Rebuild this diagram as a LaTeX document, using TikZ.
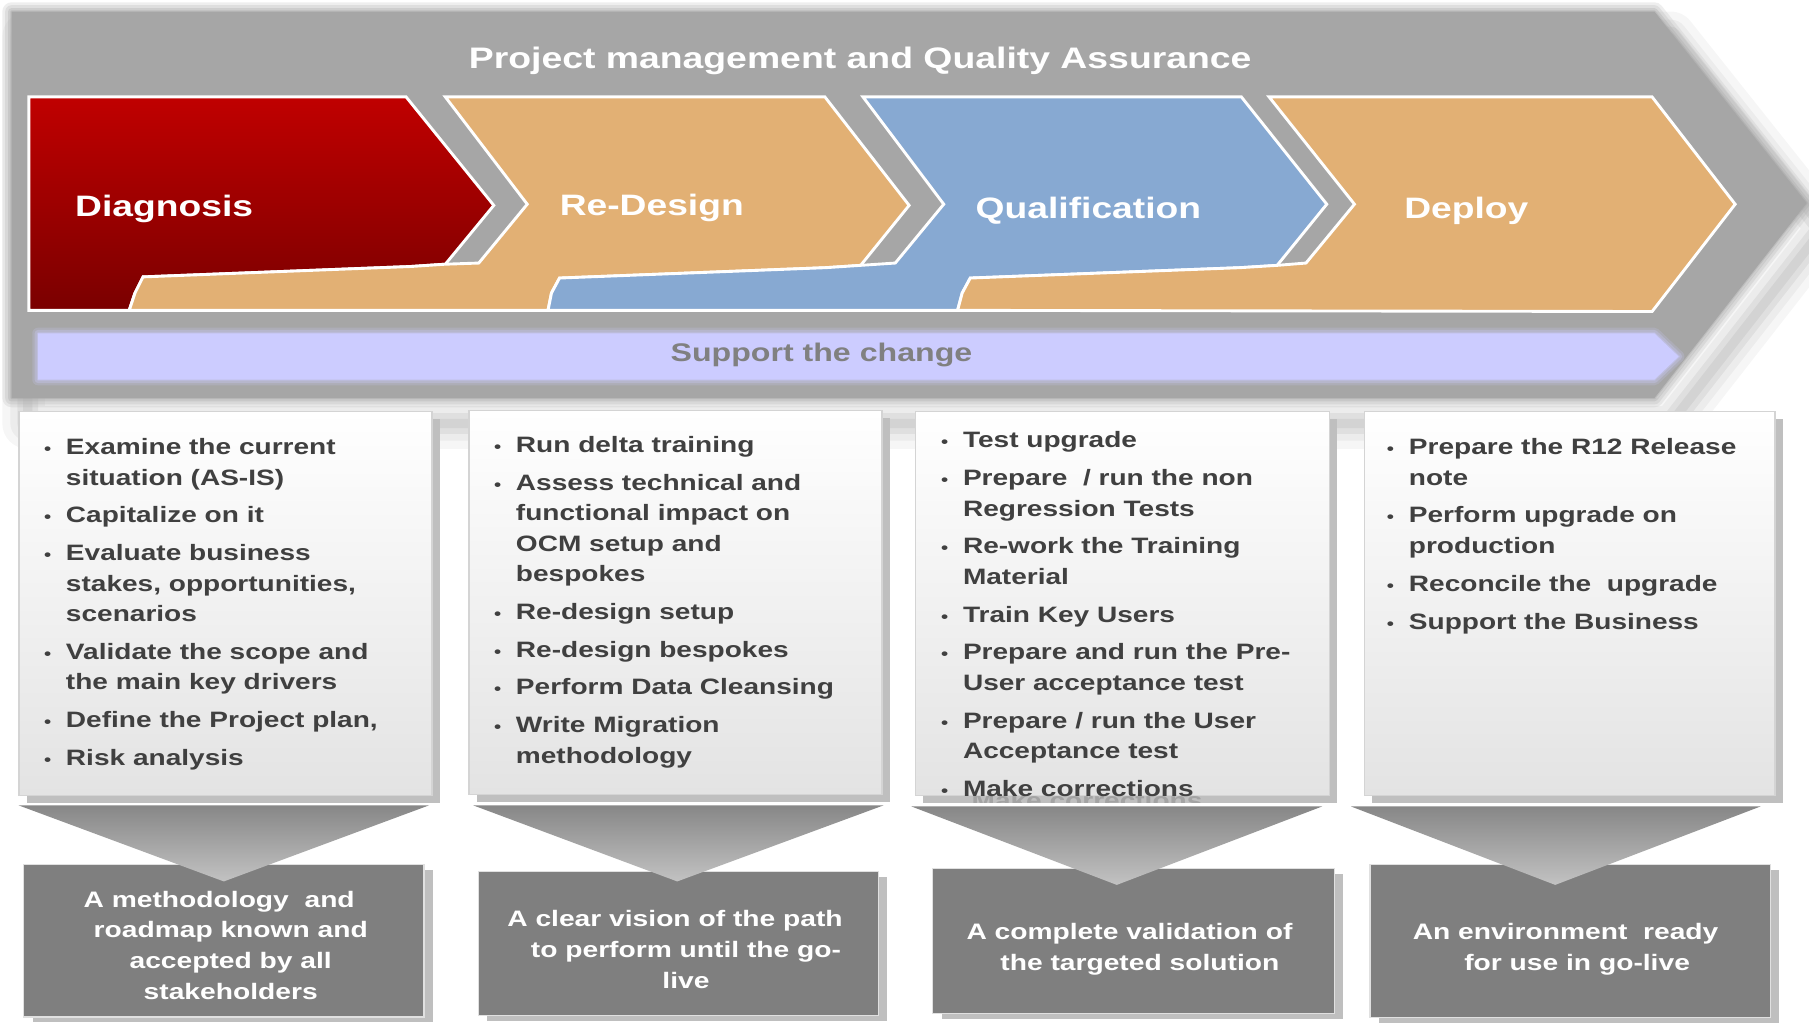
\documentclass[tikz,border=0pt]{standalone}
\usepackage{fontspec}
\newfontfamily\wf[FakeStretch=1.26]{Liberation Sans}
\definecolor{bannergray}{HTML}{A6A6A6}
\definecolor{redtop}{HTML}{C00000}
\definecolor{redbot}{HTML}{7A0000}
\definecolor{orng}{HTML}{E2B074}
\definecolor{blu}{HTML}{87A9D2}
\definecolor{lav}{HTML}{CCCCFF}
\definecolor{suptext}{HTML}{808080}
\definecolor{bultext}{HTML}{404040}
\definecolor{boxbot}{HTML}{E3E3E3}
\definecolor{boxline}{HTML}{D4D4D4}
\definecolor{shad}{HTML}{BFBFBF}
\definecolor{resfill}{HTML}{7F7F7F}
\definecolor{tritop}{HTML}{878787}
\definecolor{tribot}{HTML}{C2C2C2}
\definecolor{ghost}{HTML}{A3A3A3}
\newcommand{\mybul}{\makebox[19pt][l]{\fontsize{14pt}{14pt}\selectfont\textbullet}}
\newcommand{\mycont}{\hspace*{19pt}}
\newcommand{\firstst}{\rule{0pt}{20pt}}
\def\bannerpath{(10,10) -- (1434,10) -- (1566,176) -- (1434,345) -- (10,345) -- cycle}
\def\barpath{(33,289) -- (1434,289) -- (1455,309) -- (1434,329) -- (33,329) -- cycle}
\tikzset{
  chev/.style={draw=white, line width=2.5pt, line join=miter},
  phase/.style={font=\wf\bfseries\fontsize{25.6pt}{30pt}\selectfont, text=white, inner sep=0, anchor=base west},
  bullets/.style={font=\wf\bfseries\fontsize{19.3pt}{26.3pt}\selectfont, text=bultext, inner sep=0, anchor=north west, align=left},
  restext/.style={font=\wf\bfseries\fontsize{19.4pt}{26.6pt}\selectfont, text=white, inner sep=0, anchor=north, align=center},
  infobox/.style={top color=white, bottom color=boxbot, draw=boxline, line width=1.2pt, inner sep=0, anchor=north west},
  boxshadow/.style={fill=shad, inner sep=0, anchor=north west},
  funnelshade/.style={top color=tritop, bottom color=tribot},
  resbox/.style={fill=resfill, draw=white!88!black, line width=1pt, inner sep=0, anchor=north west},
}
\begin{document}
\begin{tikzpicture}[x=1pt,y=-1pt]
\useasboundingbox (0,0) rectangle (1568,887);
\fill[white] (0,0) rectangle (1568,887);

% soft back shadow of the banner
\begin{scope}[shift={(14,22)}]
  \foreach \w/\o in {44/0.035,30/0.04,18/0.05,8/0.05}{
    \draw[black, line width=\w pt, opacity=\o, line join=round] \bannerpath;}
\end{scope}

% banner with soft edges
\foreach \w/\o in {16/0.18,11/0.22,6/0.3,2/0.4}{
  \draw[bannergray, line width=\w pt, opacity=\o, line join=round] \bannerpath;}
\fill[bannergray] \bannerpath;

\node[font=\wf\bfseries\fontsize{25.7pt}{30pt}\selectfont, text=white, inner sep=0, anchor=base] (title) at (745.6,59) {Project management and Quality Assurance};

% chevrons
\path[chev, top color=redtop, bottom color=redbot]
  (25,84) -- (352,84) -- (428,178) -- (386,229) -- (356,231) -- (124,240) -- (117,254) -- (112,269) -- (25,269) -- cycle;
\path[chev, fill=orng]
  (386,84) -- (715,84) -- (788,178) -- (746,230) -- (716,232) -- (485,241) -- (478,254) -- (475,269) -- (112,269) -- (117,254) -- (124,240) -- (356,231) -- (386,229) -- (415,228) -- (457,177) -- cycle;
\path[chev, fill=blu]
  (748,84) -- (1076,84) -- (1150,177) -- (1107,230) -- (1075,232) -- (841,241) -- (834,254) -- (830,269) -- (475,269) -- (478,254) -- (485,241) -- (716,232) -- (746,230) -- (776,228) -- (818,177) -- cycle;
\path[chev, fill=orng]
  (1100,84) -- (1432,84) -- (1504,177) -- (1432,270) -- (830,269) -- (834,254) -- (841,241) -- (1075,232) -- (1107,230) -- (1132,228) -- (1174,177) -- cycle;

\node[phase] (diag) at (65,188) {Diagnosis};
\node[phase] (redes) at (485,186.5) {Re-Design};
\node[phase] (qual) at (845.5,189) {Qualification};
\node[phase] (depl) at (1217,189) {Deploy};

% support bar
\foreach \w/\o in {10/0.2,6/0.3,2/0.4}{
  \draw[lav, line width=\w pt, opacity=\o, line join=round] \barpath;}
\fill[lav] \barpath;
\node[font=\wf\bfseries\fontsize{22.1pt}{26pt}\selectfont, text=suptext, inner sep=0, anchor=base] (supp) at (712,313.5) {Support the change};

% info boxes
\node[boxshadow, minimum width=358pt, minimum height=333pt] (s1) at (23,363) {};
\node[boxshadow, minimum width=358pt, minimum height=333pt] (s2) at (413,362) {};
\node[boxshadow, minimum width=359pt, minimum height=333pt] (s3) at (800,363) {};
\node[boxshadow, minimum width=356pt, minimum height=333pt] (s4) at (1189,363) {};
\begin{scope}
  \clip (800,363) rectangle (1159,696);
  \node[font=\wf\bfseries\fontsize{19.3pt}{26.3pt}\selectfont, text=ghost, inner sep=0, anchor=base west] (ghost) at (842,701) {Make corrections};
\end{scope}
\node[infobox, minimum width=358pt, minimum height=333pt] (b1) at (16,356) {};
\node[infobox, minimum width=358pt, minimum height=333pt] (b2) at (406,355) {};
\node[infobox, minimum width=359pt, minimum height=333pt] (b3) at (793,356) {};
\node[infobox, minimum width=356pt, minimum height=333pt] (b4) at (1182,356) {};

\node[bullets] (t1) at (38,374) {\firstst\mybul Examine the current\\
\mycont situation (AS-IS)\\[6.5pt]
\mybul Capitalize on it\\[6.5pt]
\mybul Evaluate business\\
\mycont stakes, opportunities,\\
\mycont scenarios\\[6.5pt]
\mybul Validate the scope and\\
\mycont the main key drivers\\[6.5pt]
\mybul Define the Project plan,\\[6.5pt]
\mybul Risk analysis};

\node[bullets] (t2) at (428,372) {\firstst\mybul Run delta training\\[6.5pt]
\mybul Assess technical and\\
\mycont functional impact on\\
\mycont OCM setup and\\
\mycont bespokes\\[6.5pt]
\mybul Re-design setup\\[6.5pt]
\mybul Re-design bespokes\\[6.5pt]
\mybul Perform Data Cleansing\\[6.5pt]
\mybul Write Migration\\
\mycont methodology};

\node[bullets] (t3) at (815.5,368) {\firstst\mybul Test upgrade\\[6.5pt]
\mybul Prepare~ / run the non\\
\mycont Regression Tests\\[6.5pt]
\mybul Re-work the Training\\
\mycont Material\\[6.5pt]
\mybul Train Key Users\\[6.5pt]
\mybul Prepare and run the Pre-\\
\mycont User acceptance test\\[6.5pt]
\mybul Prepare / run the User\\
\mycont Acceptance test\\[6.5pt]
\mybul Make corrections};

\node[bullets] (t4) at (1202,374) {\firstst\mybul Prepare the R12 Release\\
\mycont note\\[6.5pt]
\mybul Perform upgrade on\\
\mycont production\\[6.5pt]
\mybul Reconcile the~ upgrade\\[6.5pt]
\mybul Support the Business};

% result boxes
\node[boxshadow, minimum width=347pt, minimum height=132pt] (rs1) at (28,754) {};
\node[boxshadow, minimum width=347pt, minimum height=125pt] (rs2) at (422,760) {};
\node[boxshadow, minimum width=348pt, minimum height=126pt] (rs3) at (816,757) {};
\node[boxshadow, minimum width=347pt, minimum height=133pt] (rs4) at (1195,753.5) {};
\node[resbox, minimum width=347pt, minimum height=132pt] (r1) at (20,749) {};
\node[resbox, minimum width=347pt, minimum height=125pt] (r2) at (414,755) {};
\node[resbox, minimum width=348pt, minimum height=126pt] (r3) at (808,752) {};
\node[resbox, minimum width=347pt, minimum height=133pt] (r4) at (1187,748.5) {};

% funnels
\path[funnelshade] (16,698) -- (372,698) -- (194,764) -- cycle;
\path[funnelshade] (410,698) -- (766,698) -- (587,764) -- cycle;
\path[funnelshade] (790,699) -- (1146,699) -- (968,767) -- cycle;
\path[funnelshade] (1171,699) -- (1526,699) -- (1348,767) -- cycle;

\node[restext] (rt1) at (200,766) {\firstst A methodology~ and\rule{20pt}{0pt}\\roadmap known and\\accepted by all\\stakeholders};
\node[restext] (rt2) at (594.6,783) {\firstst A clear vision of the path\rule{19pt}{0pt}\\to perform until the go-\\live};
\node[restext] (rt3) at (988,794) {\firstst A complete validation of\rule{18pt}{0pt}\\the targeted solution};
\node[restext] (rt4) at (1367,794) {\firstst An environment~ ready\rule{20pt}{0pt}\\for use in go-live};
\end{tikzpicture}
\end{document}
